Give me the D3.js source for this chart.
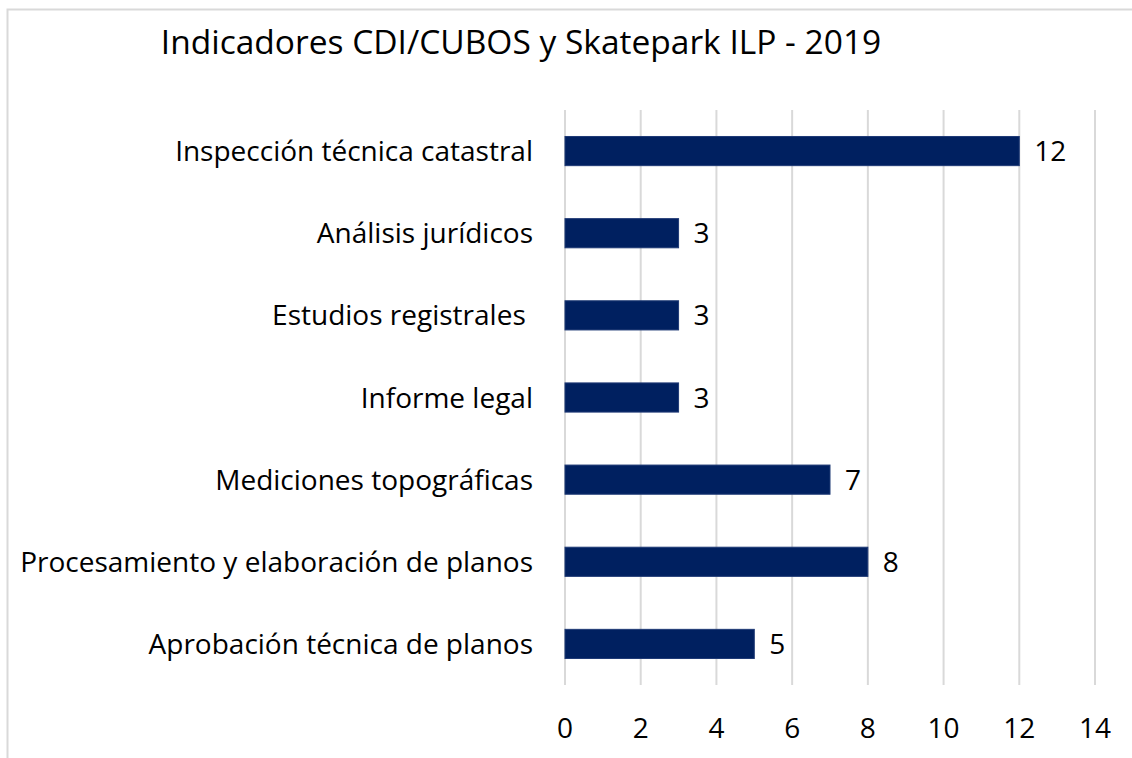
<!DOCTYPE html>
<html>
<head>
<meta charset="utf-8">
<title>Indicadores CDI/CUBOS y Skatepark ILP - 2019</title>
<script src="https://d3js.org/d3.v7.min.js"></script>
<style>
    body { margin: 0; background: white; }
    text { font-family: "Open Sans", sans-serif; fill: black; }
    .grid line { stroke: #d9d9d9; stroke-width: 2; }
</style>
</head>
<body>
<script>
    var categories = ["Inspección técnica catastral", "Análisis jurídicos", "Estudios registrales ",
                      "Informe legal", "Mediciones topográficas",
                      "Procesamiento y elaboración de planos", "Aprobación técnica de planos"];
    var values = [12, 3, 3, 3, 7, 8, 5];
    var xTicks = [0, 2, 4, 6, 8, 10, 12, 14];
    var title = "Indicadores CDI/CUBOS y Skatepark ILP - 2019";

    var width = 1132, height = 758;
    var svg = d3.select("body").append("svg").attr("width", width).attr("height", height);

    // chart frame (runs off the right and bottom edges)
    svg.append("rect").attr("x", 7.5).attr("y", 9.5).attr("width", 1200).attr("height", 800)
        .attr("fill", "white").attr("stroke", "#d9d9d9").attr("stroke-width", 2);

    var x = d3.scaleLinear().domain([0, 14]).range([565, 1095]);
    var y = d3.scaleBand().domain(categories).range([110, 685]).paddingInner(0.645).paddingOuter(0.3225);

    svg.append("g").attr("class", "grid").selectAll("line")
        .data(xTicks).enter().append("line")
        .attr("x1", function(d){ return x(d); }).attr("x2", function(d){ return x(d); })
        .attr("y1", 110).attr("y2", 685);

    svg.append("g").selectAll("rect")
        .data(values).enter().append("rect")
        .attr("x", x(0))
        .attr("y", function(d, i){ return y(categories[i]); })
        .attr("width", function(d){ return x(d) - x(0); })
        .attr("height", y.bandwidth())
        .attr("fill", "#002060")
        .attr("stroke", "#1f3a75").attr("stroke-width", 1);

    svg.append("g").selectAll("text")
        .data(values).enter().append("text")
        .attr("x", function(d){ return x(d) + 15; })
        .attr("y", function(d, i){ return y(categories[i]) + y.bandwidth() / 2; })
        .attr("dy", "0.36em")
        .style("font-size", "28px")
        .text(function(d){ return d; });

    svg.append("g").selectAll("text")
        .data(categories).enter().append("text")
        .attr("x", 533)
        .attr("y", function(d){ return y(d) + y.bandwidth() / 2; })
        .attr("dy", "0.36em")
        .attr("text-anchor", "end")
        .style("font-size", "28px")
        .style("white-space", "pre")
        .text(function(d){ return d; });

    svg.append("g").selectAll("text")
        .data(xTicks).enter().append("text")
        .attr("x", function(d){ return x(d); })
        .attr("y", 728)
        .attr("dy", "0.36em")
        .attr("text-anchor", "middle")
        .style("font-size", "28px")
        .text(function(d){ return d; });

    svg.append("text").attr("x", 521).attr("y", 42).attr("dy", "0.36em")
        .attr("text-anchor", "middle").style("font-size", "33.5px").text(title);
</script>
</body>
</html>
